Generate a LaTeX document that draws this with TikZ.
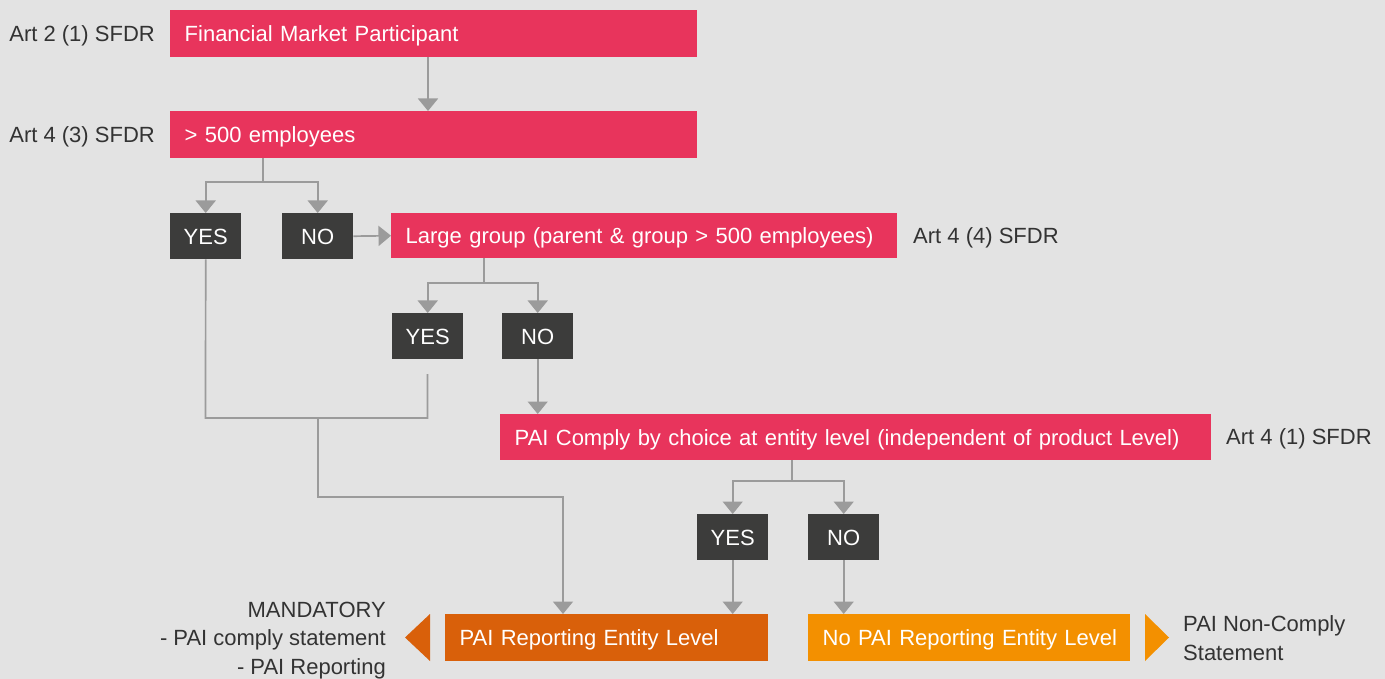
\documentclass[tikz,border=0pt]{standalone}
\usepackage{fontspec}
\setmainfont{Liberation Sans}
\usetikzlibrary{arrows.meta}
\definecolor{bgc}{HTML}{E3E3E3}
\definecolor{pinkc}{HTML}{E8345C}
\definecolor{darkc}{HTML}{3C3C3B}
\definecolor{orgdark}{HTML}{D9600A}
\definecolor{orglight}{HTML}{F39000}
\definecolor{linec}{HTML}{9B9B9B}
\definecolor{labc}{HTML}{333333}
\begin{document}
\begin{tikzpicture}[x=1pt,y=-1pt,
  every node/.style={font=\fontsize{22}{28.5}\selectfont, inner sep=0pt},
  box/.style={anchor=north west, text=white, inner xsep=14.5pt, inner ysep=0pt,
    text height=20pt, text depth=4.2pt, align=left},
  pinkbox/.style={box, fill=pinkc},
  decbox/.style={anchor=north west, fill=darkc, text=white, minimum width=71pt,
    minimum height=46pt, text height=20pt, text depth=4.2pt, align=center},
  conn/.style={draw=linec, line width=1.7pt},
  arr/.style={conn, -{Triangle[width=20pt,length=12.5pt]}},
  lbl/.style={text=labc, text height=20pt, text depth=4.2pt}
]
\fill[bgc] (0,0) rectangle (1385,679);
\useasboundingbox (0,0) rectangle (1385,679);

% main boxes
\node[pinkbox, text width=498pt, minimum height=47pt] (fmp) at (170,10) {\mbox{Financial Market Participant}};
\node[pinkbox, text width=498pt, minimum height=47pt] (emp) at (170,111) {\mbox{> 500 employees}};
\node[decbox] (yes1) at (170,213) {YES};
\node[decbox] (no1) at (282,213) {NO};
\node[pinkbox, text width=477pt, minimum height=45pt] (lg) at (391,213) {\mbox{Large group (parent \& group > 500 employees)}};
\node[decbox] (yes2) at (392,313) {YES};
\node[decbox] (no2) at (502,313) {NO};
\node[pinkbox, text width=682pt, minimum height=46pt] (pai) at (500,414) {\mbox{PAI Comply by choice at entity level (independent of product Level)}};
\node[decbox] (yes3) at (697,514) {YES};
\node[decbox] (no3) at (808,514) {NO};
\node[box, fill=orgdark, text width=294pt, minimum height=47pt] (rep) at (445,614) {\mbox{PAI Reporting Entity Level}};
\node[box, fill=orglight, text width=293pt, minimum height=47pt] (nopai) at (808,614) {\mbox{No PAI Reporting Entity Level}};

% side labels
\node[lbl, anchor=east] (l1) at (155,33.5) {Art 2 (1) SFDR};
\node[lbl, anchor=east] (l2) at (155,134.5) {Art 4 (3) SFDR};
\node[lbl, anchor=west] (l3) at (913,235.5) {Art 4 (4) SFDR};
\node[lbl, anchor=west] (l4) at (1226,437) {Art 4 (1) SFDR};
\node[text=labc, anchor=east, align=right] (mand) at (386,640.5) {MANDATORY\\- PAI comply statement\\- PAI Reporting};
\node[text=labc, anchor=west, align=left] (nonc) at (1183,638) {PAI Non-Comply\\Statement};

% pointers
\fill[orgdark] (430,614) -- (430,661) -- (405,637.5) -- cycle;
\fill[orglight] (1145,614) -- (1145,661) -- (1169,637.5) -- cycle;

% helper coordinates
\coordinate (c0) at (428,0);
\coordinate (j1) at (263,182);
\coordinate (j2) at (484,283);
\coordinate (j3) at (792,481);
\coordinate (yb) at (205.5,418);
\coordinate (y2e) at (427.5,374);
\coordinate (mj) at (318,418);
\coordinate (mk) at (563,497);

% connectors
\draw[arr] (fmp.south -| c0) -- (emp.north -| c0);
\draw[conn] (emp.south -| j1) -- (j1);
\draw[arr] (j1) -| (yes1.north);
\draw[arr] (j1) -| (no1.north);
\draw[arr] (no1.east) -- (lg.west);
\draw[conn] (lg.south -| j2) -- (j2);
\draw[arr] (j2) -| (yes2.north);
\draw[arr] (j2) -| (no2.north);
\draw[arr] (no2.south) -- (pai.north -| no2.south);
\draw[conn] (pai.south -| j3) -- (j3);
\draw[arr] (j3) -| (yes3.north);
\draw[arr] (j3) -| (no3.north);
\draw[arr] (yes3.south) -- (rep.north -| yes3.south);
\draw[arr] (no3.south) -- (nopai.north -| no3.south);
\draw[conn] (yes1.south) -- (yb) -| (y2e);
\draw[arr] (mj) |- (mk) -- (rep.north -| mk);
\end{tikzpicture}
\end{document}
